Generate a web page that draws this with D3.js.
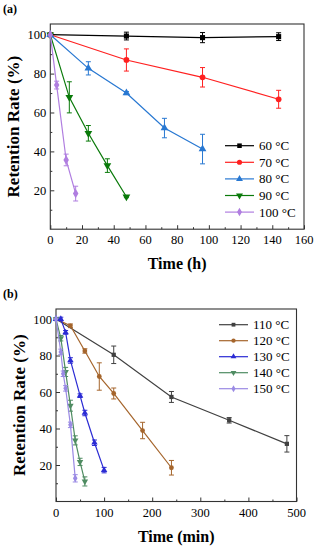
<html>
<script src="https://cdn.jsdelivr.net/npm/d3@7"></script>
<style>
body { margin: 0; background: #fff; }
</style>
<body></body>
<script>

// ---- panel (a): retention vs time (h) ----
var labelsA = ["60 °C", "70 °C", "80 °C", "90 °C", "100 °C"];
var colorsA = ["#000000", "#ff2020", "#2878d2", "#0a7a0a", "#b07ee0"];
var shapesA = [d3.symbolSquare, d3.symbolCircle, d3.symbolTriangle, "down", d3.symbolDiamond];

var hours60 = [0, 48, 96, 144];
var rate60  = [100, 99.3, 98.5, 99.0];
var err60   = [0, 2, 2.6, 2];

var hours70 = [0, 48, 96, 144];
var rate70  = [100, 87.0, 78.1, 66.8];
var err70   = [0, 5.7, 5, 4.6];

var hours80 = [0, 24, 48, 72, 96];
var rate80  = [100, 82.7, 70.0, 52.0, 41.2];
var err80   = [0, 3.4, 0.8, 5, 7.6];

var hours90 = [0, 12, 24, 36, 48];
var rate90  = [100, 67.8, 49.3, 32.7, 16.7];
var err90   = [0, 8, 4, 3.5, 0.5];

var hours100 = [0, 4, 10, 16];
var rate100  = [100, 74.1, 35.6, 18.3];
var err100   = [0, 2, 3, 3.8];

var xTicksA = [0, 20, 40, 60, 80, 100, 120, 140, 160];
var yTicks  = [20, 40, 60, 80, 100];

// ---- panel (b): retention vs time (min) ----
var labelsB = ["110 °C", "120 °C", "130 °C", "140 °C", "150 °C"];
var colorsB = ["#404040", "#a5652c", "#2b2bd4", "#4f8c62", "#9a8ae4"];
var shapesB = [d3.symbolSquare, d3.symbolCircle, d3.symbolTriangle, "down", d3.symbolDiamond];

var mins110 = [0, 120, 240, 360, 480];
var rate110 = [100, 80.4, 57.3, 44.5, 31.6];
var err110  = [0, 4.8, 3, 1.5, 4.5];

var mins120 = [0, 30, 60, 90, 120, 180, 240];
var rate120 = [100, 96.3, 82.5, 68.5, 59.2, 38.9, 18.5];
var err120  = [0, 1, 1.2, 7.5, 3, 4.5, 4];

var mins130 = [0, 10, 20, 30, 50, 60, 80, 100];
var rate130 = [100, 100, 92.7, 77.3, 58.0, 48.5, 32.2, 17.2];
var err130  = [0, 1, 1, 1.5, 1, 1.5, 1.5, 1.5];

var mins140 = [0, 10, 20, 30, 40, 50, 60];
var rate140 = [100, 89.5, 71.0, 52.5, 33.5, 21.7, 11.0];
var err140  = [0, 1.5, 2.5, 3, 2.5, 2, 2.5];

var mins150 = [0, 10, 15, 20, 30, 40];
var rate150 = [100, 82.0, 70.0, 62.0, 42.0, 12.7];
var err150  = [0, 1.5, 1.5, 1.5, 1.5, 2];

var xTicksB = [0, 100, 200, 300, 400, 500];

var FONT = "'Liberation Serif'";
var W = 318, H = 550;
var svg = d3.select("body").append("svg")
	.attr("width", W)
	.attr("height", H);

var seriesA = [
	[hours60, rate60, err60],
	[hours70, rate70, err70],
	[hours80, rate80, err80],
	[hours90, rate90, err90],
	[hours100, rate100, err100]
];
var seriesB = [
	[mins110, rate110, err110],
	[mins120, rate120, err120],
	[mins130, rate130, err130],
	[mins140, rate140, err140],
	[mins150, rate150, err150]
];

function sym(shape, size) {
	if (shape === "down") {
		var p = d3.symbol().type(d3.symbolTriangle).size(size)();
		return { d: p, rot: 180 };
	}
	return { d: d3.symbol().type(shape).size(size)(), rot: 0 };
}

function txt(sel) {
	return sel.style("font-family", FONT).style("fill", "#000");
}

function panel(opt) {
	var g = svg.append("g");
	var x = d3.scaleLinear().domain(opt.xDomain).range([opt.left, opt.right]);
	var y = d3.scaleLinear().domain([0, 105.5]).range([opt.bottom, opt.top]);

	// inward ticks, major + minor
	var xAxis = d3.axisTop(x).tickValues(opt.xTicks).tickSize(4).tickFormat("");
	var xMinor = d3.axisTop(x).tickValues(opt.xTicks.slice(1).map(function(v, i) { return (v + opt.xTicks[i]) / 2; })).tickSize(2).tickFormat("");
	var yAxis = d3.axisRight(y).tickValues(yTicks).tickSize(4).tickFormat("");
	var yMinor = d3.axisRight(y).tickValues([10, 30, 50, 70, 90]).tickSize(2).tickFormat("");

	[xAxis, xMinor].forEach(function(a) {
		g.append("g").attr("transform", "translate(0," + opt.bottom + ")").call(a)
			.call(function(s) { s.select(".domain").remove(); s.selectAll("line").attr("stroke", "#333"); });
	});
	[yAxis, yMinor].forEach(function(a) {
		g.append("g").attr("transform", "translate(" + opt.left + ",0)").call(a)
			.call(function(s) { s.select(".domain").remove(); s.selectAll("line").attr("stroke", "#333"); });
	});

	g.append("rect")
		.attr("x", opt.left).attr("y", opt.top)
		.attr("width", opt.right - opt.left).attr("height", opt.bottom - opt.top)
		.attr("fill", "none").attr("stroke", "#333").attr("stroke-width", 1.1);

	// tick labels
	g.selectAll(".xl").data(opt.xTicks).enter().append("text")
		.attr("x", function(d) { return x(d); })
		.attr("y", opt.bottom + 15)
		.attr("text-anchor", "middle")
		.style("font-size", "12.5px")
		.call(txt)
		.text(function(d) { return d; });
	g.selectAll(".yl").data(yTicks).enter().append("text")
		.attr("x", opt.left - 4)
		.attr("y", function(d) { return y(d) + 4.5; })
		.attr("text-anchor", "end")
		.style("font-size", "12.5px")
		.call(txt)
		.text(function(d) { return d; });

	g.append("text")
		.attr("x", (opt.left + opt.right) / 2)
		.attr("y", opt.bottom + 40)
		.attr("text-anchor", "middle")
		.style("font-size", "16px").style("font-weight", "bold")
		.call(txt)
		.text(opt.xLabel);
	g.append("text")
		.attr("transform", "translate(" + opt.yLabelX + "," + ((opt.top + opt.bottom) / 2) + ") rotate(-90)")
		.attr("text-anchor", "middle")
		.style("font-size", "17px").style("font-weight", "bold")
		.call(txt)
		.text("Retention Rate (%)");

	g.append("text")
		.attr("x", 3).attr("y", opt.tagY)
		.style("font-size", "12px").style("font-weight", "bold")
		.call(txt)
		.text(opt.tag);

	// series
	var line = d3.line().x(function(d) { return x(d[0]); }).y(function(d) { return y(d[1]); });
	opt.series.forEach(function(s, i) {
		var pts = s[0].map(function(t, j) { return [t, s[1][j], s[2][j]]; });
		var c = opt.colors[i];
		var sg = g.append("g");
		sg.append("path").datum(pts).attr("d", line)
			.attr("fill", "none").attr("stroke", c).attr("stroke-width", 1.2);
		pts.forEach(function(p) {
			if (p[2] > 0) {
				var cx = x(p[0]);
				sg.append("line").attr("x1", cx).attr("x2", cx)
					.attr("y1", y(p[1] - p[2])).attr("y2", y(p[1] + p[2]))
					.attr("stroke", c).attr("stroke-width", 1);
				[p[1] - p[2], p[1] + p[2]].forEach(function(v) {
					sg.append("line").attr("x1", cx - 2.5).attr("x2", cx + 2.5)
						.attr("y1", y(v)).attr("y2", y(v))
						.attr("stroke", c).attr("stroke-width", 1);
				});
			}
			var m = sym(opt.shapes[i], opt.mSize);
			sg.append("path").attr("d", m.d)
				.attr("transform", "translate(" + x(p[0]) + "," + y(p[1]) + ") rotate(" + m.rot + ")")
				.attr("fill", c);
		});

		// legend entry
		var ly = opt.legY + i * opt.legStep;
		g.append("line").attr("x1", opt.legX).attr("x2", opt.legX + 29)
			.attr("y1", ly).attr("y2", ly).attr("stroke", c).attr("stroke-width", 1.2);
		var lm = sym(opt.shapes[i], opt.mSize * 0.8);
		g.append("path").attr("d", lm.d)
			.attr("transform", "translate(" + (opt.legX + 14.5) + "," + ly + ") rotate(" + lm.rot + ")")
			.attr("fill", c);
		g.append("text")
			.attr("x", opt.legX + 34).attr("y", ly + 4.5)
			.style("font-size", "13px")
			.call(txt)
			.text(opt.labels[i]);
	});
}

panel({
	left: 50.3, right: 304, top: 24, bottom: 229.2,
	xDomain: [0, 160], xTicks: xTicksA, xLabel: "Time (h)",
	yLabelX: 19, tag: "(a)", tagY: 13,
	series: seriesA, colors: colorsA, shapes: shapesA, labels: labelsA,
	mSize: 26, legX: 225, legY: 145.7, legStep: 16.6
});

panel({
	left: 56, right: 296.5, top: 309, bottom: 501.5,
	xDomain: [0, 500], xTicks: xTicksB, xLabel: "Time (min)",
	yLabelX: 25, tag: "(b)", tagY: 298,
	series: seriesB, colors: colorsB, shapes: shapesB, labels: labelsB,
	mSize: 18, legX: 219, legY: 324.7, legStep: 16
});

</script>
</html>
